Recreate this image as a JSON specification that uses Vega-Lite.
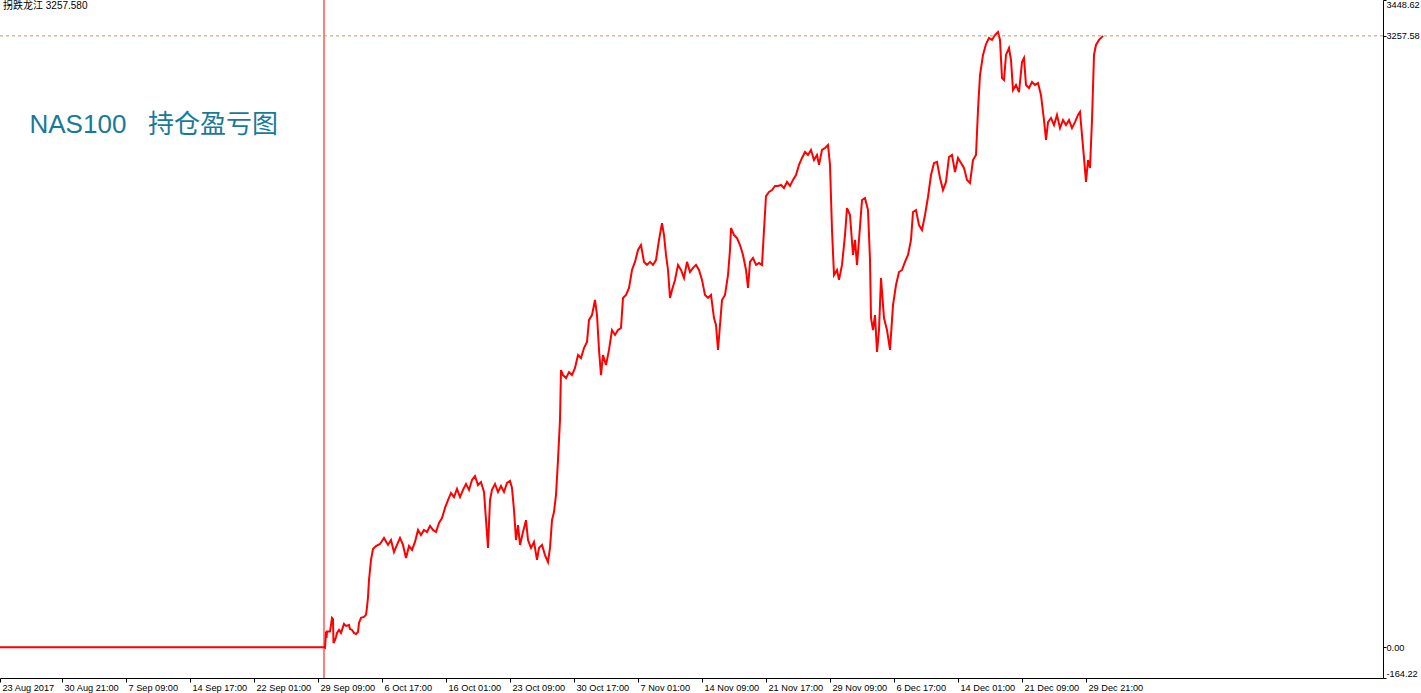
{
  "$schema": "https://vega.github.io/schema/vega-lite/v6.json",
  "width": 1383,
  "height": 678,
  "autosize": "none",
  "padding": {"left": 0, "top": 0, "right": 38, "bottom": 15},
  "background": "white",
  "title": {"text": "拐跌龙江 3257.580", "anchor": "start", "frame": "group", "offset": -11, "dx": 3, "fontSize": 10, "font": "Liberation Sans, Noto Sans CJK SC", "fontWeight": "normal", "color": "#000000"},
  "config": {"view": {"stroke": null}},
  "datasets": {
    "series": [
      {"bar": 0, "pnl": 0}, {"bar": 324, "pnl": 0}, {"bar": 325, "pnl": -3}, {"bar": 326, "pnl": 83}, {"bar": 326.5, "pnl": 49},
      {"bar": 327, "pnl": 83}, {"bar": 330, "pnl": 83}, {"bar": 331, "pnl": 118}, {"bar": 332, "pnl": 156}, {"bar": 333, "pnl": 150},
      {"bar": 333.5, "pnl": 22}, {"bar": 335, "pnl": 38}, {"bar": 336, "pnl": 54}, {"bar": 337, "pnl": 76}, {"bar": 339, "pnl": 92},
      {"bar": 341, "pnl": 76}, {"bar": 342, "pnl": 92}, {"bar": 344, "pnl": 124}, {"bar": 346, "pnl": 113}, {"bar": 349, "pnl": 118},
      {"bar": 350, "pnl": 97}, {"bar": 352, "pnl": 92}, {"bar": 354, "pnl": 76}, {"bar": 356, "pnl": 70}, {"bar": 358, "pnl": 81},
      {"bar": 359, "pnl": 129}, {"bar": 361, "pnl": 156}, {"bar": 364, "pnl": 161}, {"bar": 366, "pnl": 172}, {"bar": 367, "pnl": 214},
      {"bar": 368, "pnl": 267}, {"bar": 369, "pnl": 358}, {"bar": 371, "pnl": 465}, {"bar": 373, "pnl": 523}, {"bar": 376, "pnl": 539},
      {"bar": 380, "pnl": 550}, {"bar": 384, "pnl": 582}, {"bar": 388, "pnl": 545}, {"bar": 391, "pnl": 571}, {"bar": 394, "pnl": 507},
      {"bar": 397, "pnl": 545}, {"bar": 400, "pnl": 582}, {"bar": 403, "pnl": 545}, {"bar": 406, "pnl": 475}, {"bar": 409, "pnl": 539},
      {"bar": 412, "pnl": 518}, {"bar": 415, "pnl": 561}, {"bar": 418, "pnl": 625}, {"bar": 421, "pnl": 598}, {"bar": 424, "pnl": 625},
      {"bar": 427, "pnl": 614}, {"bar": 430, "pnl": 646}, {"bar": 433, "pnl": 625}, {"bar": 436, "pnl": 614}, {"bar": 439, "pnl": 662},
      {"bar": 442, "pnl": 688}, {"bar": 445, "pnl": 742}, {"bar": 448, "pnl": 784}, {"bar": 451, "pnl": 822}, {"bar": 454, "pnl": 800},
      {"bar": 457, "pnl": 843}, {"bar": 460, "pnl": 800}, {"bar": 463, "pnl": 838}, {"bar": 466, "pnl": 870}, {"bar": 469, "pnl": 838},
      {"bar": 472, "pnl": 891}, {"bar": 475, "pnl": 912}, {"bar": 478, "pnl": 864}, {"bar": 481, "pnl": 880}, {"bar": 484, "pnl": 827},
      {"bar": 486, "pnl": 678}, {"bar": 488, "pnl": 529}, {"bar": 490, "pnl": 784}, {"bar": 492, "pnl": 838}, {"bar": 495, "pnl": 870},
      {"bar": 498, "pnl": 827}, {"bar": 501, "pnl": 859}, {"bar": 504, "pnl": 827}, {"bar": 507, "pnl": 875}, {"bar": 510, "pnl": 886},
      {"bar": 512, "pnl": 848}, {"bar": 514, "pnl": 731}, {"bar": 516, "pnl": 571}, {"bar": 518, "pnl": 651}, {"bar": 520, "pnl": 545},
      {"bar": 523, "pnl": 614}, {"bar": 526, "pnl": 677}, {"bar": 528, "pnl": 571}, {"bar": 531, "pnl": 529}, {"bar": 534, "pnl": 561},
      {"bar": 537, "pnl": 465}, {"bar": 539, "pnl": 529}, {"bar": 542, "pnl": 545}, {"bar": 545, "pnl": 491}, {"bar": 548, "pnl": 454},
      {"bar": 550, "pnl": 529}, {"bar": 552, "pnl": 677}, {"bar": 554, "pnl": 720}, {"bar": 556, "pnl": 811}, {"bar": 558, "pnl": 998},
      {"bar": 560, "pnl": 1211}, {"bar": 561, "pnl": 1477}, {"bar": 563, "pnl": 1450}, {"bar": 566, "pnl": 1434}, {"bar": 569, "pnl": 1466},
      {"bar": 572, "pnl": 1450}, {"bar": 575, "pnl": 1488}, {"bar": 578, "pnl": 1557}, {"bar": 581, "pnl": 1541}, {"bar": 584, "pnl": 1594},
      {"bar": 587, "pnl": 1626}, {"bar": 589, "pnl": 1744}, {"bar": 592, "pnl": 1770}, {"bar": 595, "pnl": 1850}, {"bar": 597, "pnl": 1770},
      {"bar": 599, "pnl": 1584}, {"bar": 601, "pnl": 1450}, {"bar": 603, "pnl": 1557}, {"bar": 606, "pnl": 1504}, {"bar": 609, "pnl": 1584},
      {"bar": 612, "pnl": 1690}, {"bar": 615, "pnl": 1664}, {"bar": 618, "pnl": 1690}, {"bar": 621, "pnl": 1701}, {"bar": 623, "pnl": 1861},
      {"bar": 626, "pnl": 1877}, {"bar": 629, "pnl": 1914}, {"bar": 632, "pnl": 2010}, {"bar": 635, "pnl": 2053}, {"bar": 638, "pnl": 2117},
      {"bar": 641, "pnl": 2143}, {"bar": 644, "pnl": 2053}, {"bar": 647, "pnl": 2037}, {"bar": 650, "pnl": 2053}, {"bar": 653, "pnl": 2037},
      {"bar": 656, "pnl": 2063}, {"bar": 659, "pnl": 2170}, {"bar": 662, "pnl": 2260}, {"bar": 664, "pnl": 2196}, {"bar": 666, "pnl": 2090},
      {"bar": 668, "pnl": 2010}, {"bar": 670, "pnl": 1861}, {"bar": 672, "pnl": 1903}, {"bar": 675, "pnl": 1957}, {"bar": 678, "pnl": 2037},
      {"bar": 681, "pnl": 2010}, {"bar": 684, "pnl": 1967}, {"bar": 687, "pnl": 2053}, {"bar": 690, "pnl": 1999}, {"bar": 693, "pnl": 2021},
      {"bar": 696, "pnl": 2037}, {"bar": 699, "pnl": 2010}, {"bar": 702, "pnl": 1957}, {"bar": 705, "pnl": 1877}, {"bar": 708, "pnl": 1861},
      {"bar": 711, "pnl": 1877}, {"bar": 714, "pnl": 1754}, {"bar": 716, "pnl": 1717}, {"bar": 718, "pnl": 1584}, {"bar": 720, "pnl": 1717},
      {"bar": 722, "pnl": 1850}, {"bar": 725, "pnl": 1877}, {"bar": 728, "pnl": 1983}, {"bar": 730, "pnl": 2117}, {"bar": 731, "pnl": 2234},
      {"bar": 734, "pnl": 2196}, {"bar": 737, "pnl": 2180}, {"bar": 740, "pnl": 2143}, {"bar": 743, "pnl": 2090}, {"bar": 746, "pnl": 2010},
      {"bar": 748, "pnl": 1914}, {"bar": 750, "pnl": 2053}, {"bar": 753, "pnl": 2074}, {"bar": 756, "pnl": 2037}, {"bar": 759, "pnl": 2047},
      {"bar": 762, "pnl": 2037}, {"bar": 764, "pnl": 2223}, {"bar": 766, "pnl": 2404}, {"bar": 769, "pnl": 2426}, {"bar": 772, "pnl": 2436},
      {"bar": 775, "pnl": 2458}, {"bar": 778, "pnl": 2458}, {"bar": 781, "pnl": 2463}, {"bar": 784, "pnl": 2447}, {"bar": 787, "pnl": 2479},
      {"bar": 790, "pnl": 2458}, {"bar": 793, "pnl": 2490}, {"bar": 796, "pnl": 2516}, {"bar": 799, "pnl": 2570}, {"bar": 802, "pnl": 2607},
      {"bar": 805, "pnl": 2639}, {"bar": 808, "pnl": 2623}, {"bar": 811, "pnl": 2650}, {"bar": 814, "pnl": 2596}, {"bar": 817, "pnl": 2623},
      {"bar": 819, "pnl": 2570}, {"bar": 822, "pnl": 2650}, {"bar": 825, "pnl": 2660}, {"bar": 828, "pnl": 2676}, {"bar": 830, "pnl": 2570},
      {"bar": 832, "pnl": 2223}, {"bar": 834, "pnl": 1983}, {"bar": 837, "pnl": 2010}, {"bar": 839, "pnl": 1957}, {"bar": 842, "pnl": 2037},
      {"bar": 845, "pnl": 2196}, {"bar": 847, "pnl": 2340}, {"bar": 850, "pnl": 2303}, {"bar": 853, "pnl": 2090}, {"bar": 855, "pnl": 2170},
      {"bar": 857, "pnl": 2037}, {"bar": 859, "pnl": 2170}, {"bar": 862, "pnl": 2383}, {"bar": 865, "pnl": 2393}, {"bar": 868, "pnl": 2329},
      {"bar": 870, "pnl": 2063}, {"bar": 871, "pnl": 1754}, {"bar": 873, "pnl": 1690}, {"bar": 875, "pnl": 1770}, {"bar": 877, "pnl": 1573},
      {"bar": 879, "pnl": 1690}, {"bar": 881, "pnl": 1967}, {"bar": 884, "pnl": 1754}, {"bar": 887, "pnl": 1690}, {"bar": 890, "pnl": 1584},
      {"bar": 893, "pnl": 1823}, {"bar": 896, "pnl": 1930}, {"bar": 899, "pnl": 1999}, {"bar": 902, "pnl": 2010}, {"bar": 905, "pnl": 2053},
      {"bar": 908, "pnl": 2090}, {"bar": 911, "pnl": 2170}, {"bar": 913, "pnl": 2319}, {"bar": 916, "pnl": 2329}, {"bar": 919, "pnl": 2249},
      {"bar": 922, "pnl": 2223}, {"bar": 925, "pnl": 2303}, {"bar": 928, "pnl": 2399}, {"bar": 931, "pnl": 2516}, {"bar": 934, "pnl": 2580},
      {"bar": 937, "pnl": 2586}, {"bar": 940, "pnl": 2500}, {"bar": 943, "pnl": 2436}, {"bar": 946, "pnl": 2479}, {"bar": 949, "pnl": 2612},
      {"bar": 952, "pnl": 2623}, {"bar": 955, "pnl": 2532}, {"bar": 958, "pnl": 2607}, {"bar": 961, "pnl": 2580}, {"bar": 964, "pnl": 2554},
      {"bar": 967, "pnl": 2490}, {"bar": 970, "pnl": 2474}, {"bar": 973, "pnl": 2596}, {"bar": 976, "pnl": 2623}, {"bar": 978, "pnl": 2863},
      {"bar": 980, "pnl": 3049}, {"bar": 983, "pnl": 3156}, {"bar": 986, "pnl": 3214}, {"bar": 989, "pnl": 3246}, {"bar": 992, "pnl": 3236},
      {"bar": 995, "pnl": 3262}, {"bar": 998, "pnl": 3278}, {"bar": 1000, "pnl": 3236}, {"bar": 1002, "pnl": 3033}, {"bar": 1004, "pnl": 3022},
      {"bar": 1006, "pnl": 3156}, {"bar": 1009, "pnl": 3193}, {"bar": 1011, "pnl": 3129}, {"bar": 1013, "pnl": 2969}, {"bar": 1016, "pnl": 2996},
      {"bar": 1019, "pnl": 2958}, {"bar": 1022, "pnl": 3118}, {"bar": 1024, "pnl": 3140}, {"bar": 1026, "pnl": 2996}, {"bar": 1029, "pnl": 2980},
      {"bar": 1032, "pnl": 3012}, {"bar": 1035, "pnl": 2996}, {"bar": 1038, "pnl": 3006}, {"bar": 1041, "pnl": 2942}, {"bar": 1044, "pnl": 2809},
      {"bar": 1046, "pnl": 2703}, {"bar": 1048, "pnl": 2798}, {"bar": 1051, "pnl": 2820}, {"bar": 1054, "pnl": 2782}, {"bar": 1057, "pnl": 2836},
      {"bar": 1060, "pnl": 2766}, {"bar": 1063, "pnl": 2809}, {"bar": 1066, "pnl": 2782}, {"bar": 1069, "pnl": 2809}, {"bar": 1072, "pnl": 2766},
      {"bar": 1075, "pnl": 2798}, {"bar": 1078, "pnl": 2836}, {"bar": 1080, "pnl": 2852}, {"bar": 1082, "pnl": 2729}, {"bar": 1084, "pnl": 2607},
      {"bar": 1086, "pnl": 2479}, {"bar": 1088, "pnl": 2596}, {"bar": 1090, "pnl": 2554}, {"bar": 1092, "pnl": 2809}, {"bar": 1094, "pnl": 3156},
      {"bar": 1096, "pnl": 3209}, {"bar": 1099, "pnl": 3236}, {"bar": 1102, "pnl": 3252}, {"bar": 1103, "pnl": 3257.58}
    ]
  },
  "layer": [
    {
      "data": {"name": "series"},
      "mark": {"type": "line", "color": "#ff0000", "strokeWidth": 2},
      "encoding": {
        "x": {
          "field": "bar", "type": "quantitative",
          "scale": {"domain": [0, 1383], "nice": false, "zero": false},
          "axis": {
            "orient": "bottom", "title": null, "grid": false,
            "values": [0, 62, 126, 190, 254, 318, 382, 446, 510, 574, 638, 702, 766, 830, 894, 958, 1022, 1086],
            "labelExpr": "['23 Aug 2017','30 Aug 21:00','7 Sep 09:00','14 Sep 17:00','22 Sep 01:00','29 Sep 09:00','6 Oct 17:00','16 Oct 01:00','23 Oct 09:00','30 Oct 17:00','7 Nov 01:00','14 Nov 09:00','21 Nov 17:00','29 Nov 09:00','6 Dec 17:00','14 Dec 01:00','21 Dec 09:00','29 Dec 21:00'][round((datum.value + 2) / 64)]",
            "labelAlign": "left", "labelOffset": 2, "labelBaseline": "top",
            "tickSize": 4, "labelPadding": 1,
            "labelFlush": false, "labelOverlap": false, "labelBound": false,
            "labelFont": "Liberation Sans", "labelFontSize": 9.2, "labelColor": "#000000",
            "domainColor": "#000000", "tickColor": "#000000", "domainWidth": 1, "tickWidth": 1
          }
        },
        "y": {
          "field": "pnl", "type": "quantitative",
          "scale": {"domain": [-164.22, 3448.62], "nice": false, "zero": false},
          "axis": {
            "orient": "right", "grid": false,
            "values": [3448.62, 3257.58, 0, -164.22],
            "labelExpr": "replace(format(datum.value, '.2f'), '\u2212', '-')",
            "tickSize": 3, "labelPadding": 0, "labelFlush": true, "labelOverlap": false, "labelBound": false,
            "labelFont": "Liberation Sans", "labelFontSize": 9.2, "labelColor": "#000000",
            "domainColor": "#000000", "tickColor": "#000000",
            "title": "NAS100\u00a0\u00a0 持仓盈亏图", "titleAngle": 0, "titleX": -1354, "titleY": 124,
            "titleAlign": "left", "titleBaseline": "middle",
            "titleFont": "Liberation Sans, Noto Sans CJK SC", "titleFontSize": 26, "titleFontWeight": "normal", "titleColor": "#177a98"
          }
        }
      }
    },
    {
      "data": {"values": [{"bar": 324}]},
      "mark": {"type": "rule", "color": "#ff0000", "strokeWidth": 1},
      "encoding": {"x": {"field": "bar", "type": "quantitative"}}
    },
    {
      "data": {"values": [{"pnl": 3257.58}]},
      "mark": {"type": "rule", "color": "#c8966e", "strokeWidth": 1, "strokeDash": [3, 3]},
      "encoding": {"y": {"field": "pnl", "type": "quantitative"}}
    }
  ]
}
